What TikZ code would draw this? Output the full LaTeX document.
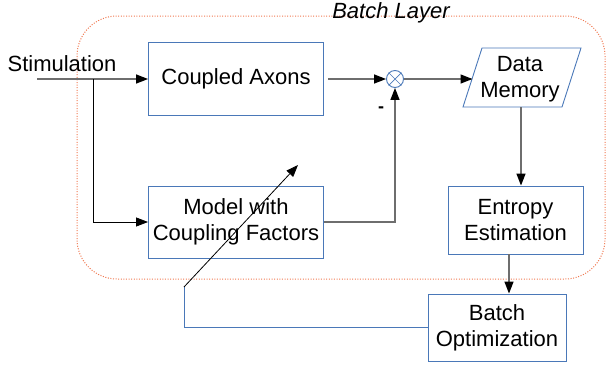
\documentclass[tikz,border=0pt]{standalone}
\usepackage{fontspec}
\setmainfont{Liberation Sans}
\usetikzlibrary{arrows.meta}
\definecolor{boxblue}{HTML}{4A78B8}
\definecolor{linegray}{HTML}{6E6E6E}
\definecolor{dotorange}{HTML}{F07850}
\begin{document}
\begin{tikzpicture}[x=1pt,y=-1pt,
  font=\fontsize{22pt}{26pt}\selectfont,
  blk/.style={draw=boxblue, line width=0.9pt, align=center, inner sep=0pt},
  gline/.style={draw=linegray, line width=1.4pt},
  kline/.style={draw=black, line width=0.8pt},
  tip/.style={-{Triangle[length=12pt,width=9pt,black]}}]
\useasboundingbox (0,0) rectangle (606,365);
% batch layer region
\draw[dotorange, line width=1pt, dash pattern=on 1pt off 1.6pt, rounded corners=40pt] (77,16) rectangle (605,279);
\node[font=\fontsize{22pt}{26pt}\selectfont\itshape] (bl) at (391,13) {Batch Layer};
% blocks
\node[blk, minimum width=175pt, minimum height=73pt] (ca) at (236,79) {Coupled Axons};
\node[blk, minimum width=175pt, minimum height=72pt] (mw) at (236,222) {Model with\\Coupling Factors};
\node[blk, minimum width=135pt, minimum height=68pt] (ee) at (515.5,220) {Entropy\\Estimation};
\node[blk, minimum width=138pt, minimum height=67pt] (bo) at (497,327.5) {Batch\\Optimization};
% data memory parallelogram
\draw[boxblue, line width=0.9pt] (482,48) -- (581,48) -- (562,107) -- (463,107) -- cycle;
\node[align=center] (dm) at (520,79) {Data\\Memory};
\coordinate (dmin) at (472.5,79);
\coordinate (dmout) at (521,107);
% summing junction
\node[draw=boxblue, line width=0.9pt, circle, minimum size=17pt, inner sep=0pt] (sum) at (395,79) {};
\draw[boxblue, line width=0.7pt] (sum.north west) -- (sum.south east) (sum.north east) -- (sum.south west);
\node[font=\fontsize{18pt}{20pt}\selectfont\bfseries] (minus) at (381,110) {-};
% stimulation
\node (stim) at (62,64) {Stimulation};
\coordinate (sin) at (37,79);
\coordinate (br) at (93,79);
\coordinate (caout) at (328,79);
\coordinate (fb1) at (184,287);
\coordinate (fb2) at (298,165);
% connectors
\draw[gline, tip] (sin) -- (ca.west);
\draw[kline, tip] (br) |- (mw.west);
\draw[gline, tip] (caout) -- (sum.west);
\draw[gline, tip] (mw.east) -| (sum.south);
\draw[gline, tip] (sum.east) -- (dmin);
\draw[gline, tip] (dmout) -- (dmout |- ee.north);
\draw[gline, tip] ([xshift=-6.5pt]ee.south) -- ([xshift=-6.5pt]ee.south |- bo.north);
\draw[boxblue, line width=0.9pt] (bo.west) -| (fb1);
\draw[kline, tip] (fb1) -- (fb2);
\end{tikzpicture}
\end{document}
